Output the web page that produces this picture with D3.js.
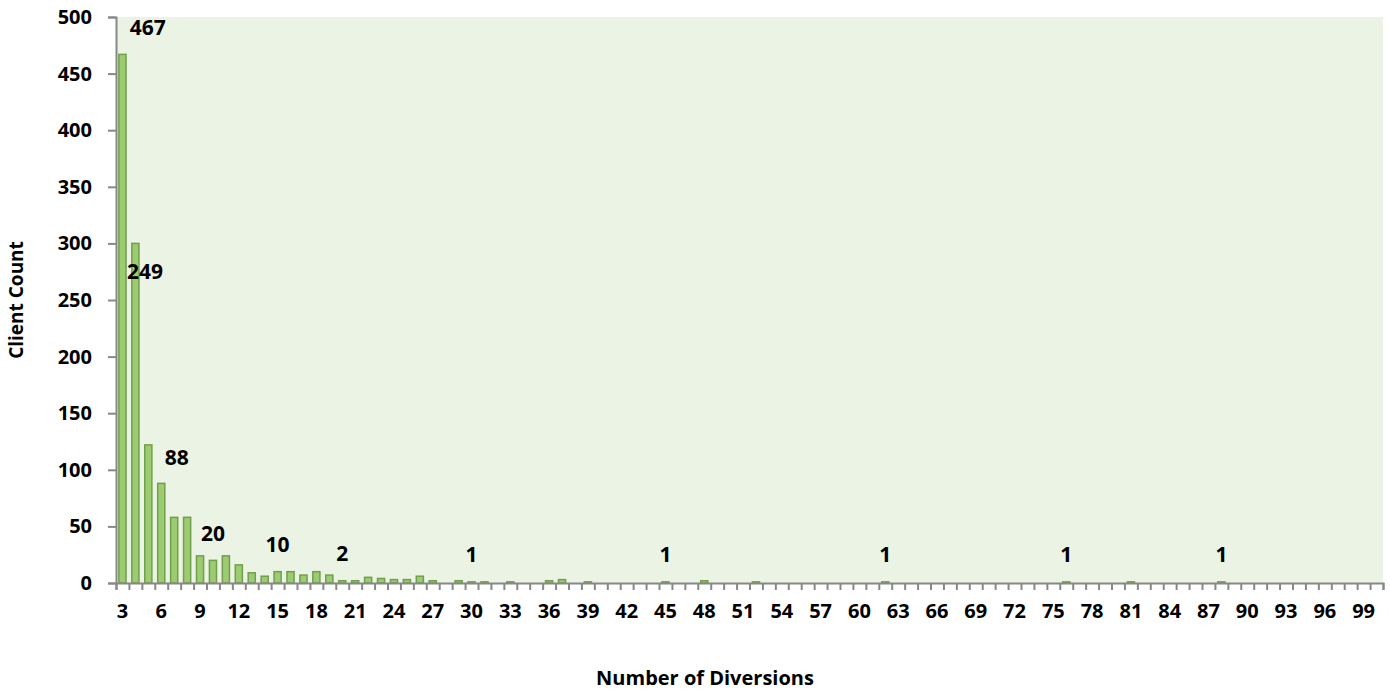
<html>
<head>
<script src="https://d3js.org/d3.v7.min.js"></script>
<style>
body { margin: 0; background: #fff; }
text { font-family: "Open Sans", sans-serif; font-weight: bold; fill: #000; }
</style>
</head>
<body>
<svg width="1390" height="690"></svg>
<script>
// number of diversions (categories)
var diversions = d3.range(3, 101);
// client count per number of diversions
var counts = [467, 300, 122, 88, 58, 58, 24, 20, 24, 16,
              9, 6, 10, 10, 7, 10, 7, 2, 2, 5,
              4, 3, 3, 6, 2, 0, 2, 1, 1, 0,
              1, 0, 0, 2, 3, 0, 1, 0, 0, 0,
              0, 0, 1, 0, 0, 2, 0, 0, 0, 1,
              0, 0, 0, 0, 0, 0, 0, 0, 0, 1,
              0, 0, 0, 0, 0, 0, 0, 0, 0, 0,
              0, 0, 0, 1, 0, 0, 0, 0, 1, 0,
              0, 0, 0, 0, 0, 1, 0, 0, 0, 0,
              0, 0, 0, 0, 0, 0, 0, 0];
var yTicks = [0, 50, 100, 150, 200, 250, 300, 350, 400, 450, 500];
var xTickLabels = d3.range(3, 100, 3);

// annotation labels (text, position along x in diversion units, y in count units)
var noteText = ["467", "249", "88", "20", "10", "2", "1", "1", "1", "1", "1"];
var noteX = [4.95, 4.75, 7.2, 10, 15, 20, 30, 45, 62, 76, 88];
var noteY = [491, 275, 111, 44, 34, 26, 25, 25, 25, 25, 25];

function draw() {
  var mLeft = 116, mTop = 17, width = 1267, height = 566;
  var svg = d3.select("svg");
  var g = svg.append("g").attr("transform", "translate(" + mLeft + "," + mTop + ")");

  var x = d3.scaleBand().domain(diversions).range([0, width]).paddingInner(0.45).paddingOuter(0.225);
  var xLin = d3.scaleLinear().domain([2.5, 100.5]).range([0, width]);
  var y = d3.scaleLinear().domain([0, 500]).range([height, 0]);

  g.append("rect")
    .attr("width", width).attr("height", height)
    .attr("fill", "#ebf3e4");

  g.selectAll(".bar").data(counts).enter().append("rect")
    .attr("class", "bar")
    .attr("x", function(d, i) { return x(diversions[i]); })
    .attr("y", function(d) { return y(d); })
    .attr("width", x.bandwidth())
    .attr("height", function(d) { return height - y(d); })
    .attr("fill", "#9ccb72")
    .attr("stroke", "#70a04a")
    .attr("stroke-width", 1.5)
    .style("display", function(d) { return d > 0 ? null : "none"; });

  // y axis
  var yAxis = g.append("g")
    .call(d3.axisLeft(y).tickValues(yTicks).tickSize(8).tickPadding(16));
  yAxis.selectAll("text").style("font-size", "20px");

  // x axis: tick marks at category boundaries
  var xMarks = g.append("g").attr("transform", "translate(0," + height + ")")
    .call(d3.axisBottom(xLin).tickValues(d3.range(2.5, 101, 1)).tickSize(7).tickFormat(""));

  // x axis labels every third category
  var xLabels = g.append("g").attr("transform", "translate(0," + height + ")")
    .call(d3.axisBottom(x).tickValues(xTickLabels).tickSize(0).tickPadding(21));
  xLabels.select(".domain").remove();
  xLabels.selectAll("text").style("font-size", "20px");

  [yAxis, xMarks].forEach(function(a) {
    a.selectAll("line, path").attr("stroke", "#888").attr("stroke-width", 2);
  });

  g.selectAll(".note").data(noteText).enter().append("text")
    .attr("class", "note")
    .attr("x", function(d, i) { return xLin(noteX[i]); })
    .attr("y", function(d, i) { return y(noteY[i]); })
    .attr("dy", "0.35em")
    .attr("text-anchor", "middle")
    .style("font-size", "21px")
    .text(function(d) { return d; });

  svg.append("text")
    .attr("x", 705)
    .attr("y", 685)
    .attr("text-anchor", "middle")
    .style("font-size", "20px")
    .text("Number of Diversions");

  svg.append("text")
    .attr("transform", "translate(23," + (mTop + height / 2) + ") rotate(-90)")
    .attr("text-anchor", "middle")
    .style("font-size", "19px")
    .text("Client Count");
}
draw();
</script>
</body>
</html>
